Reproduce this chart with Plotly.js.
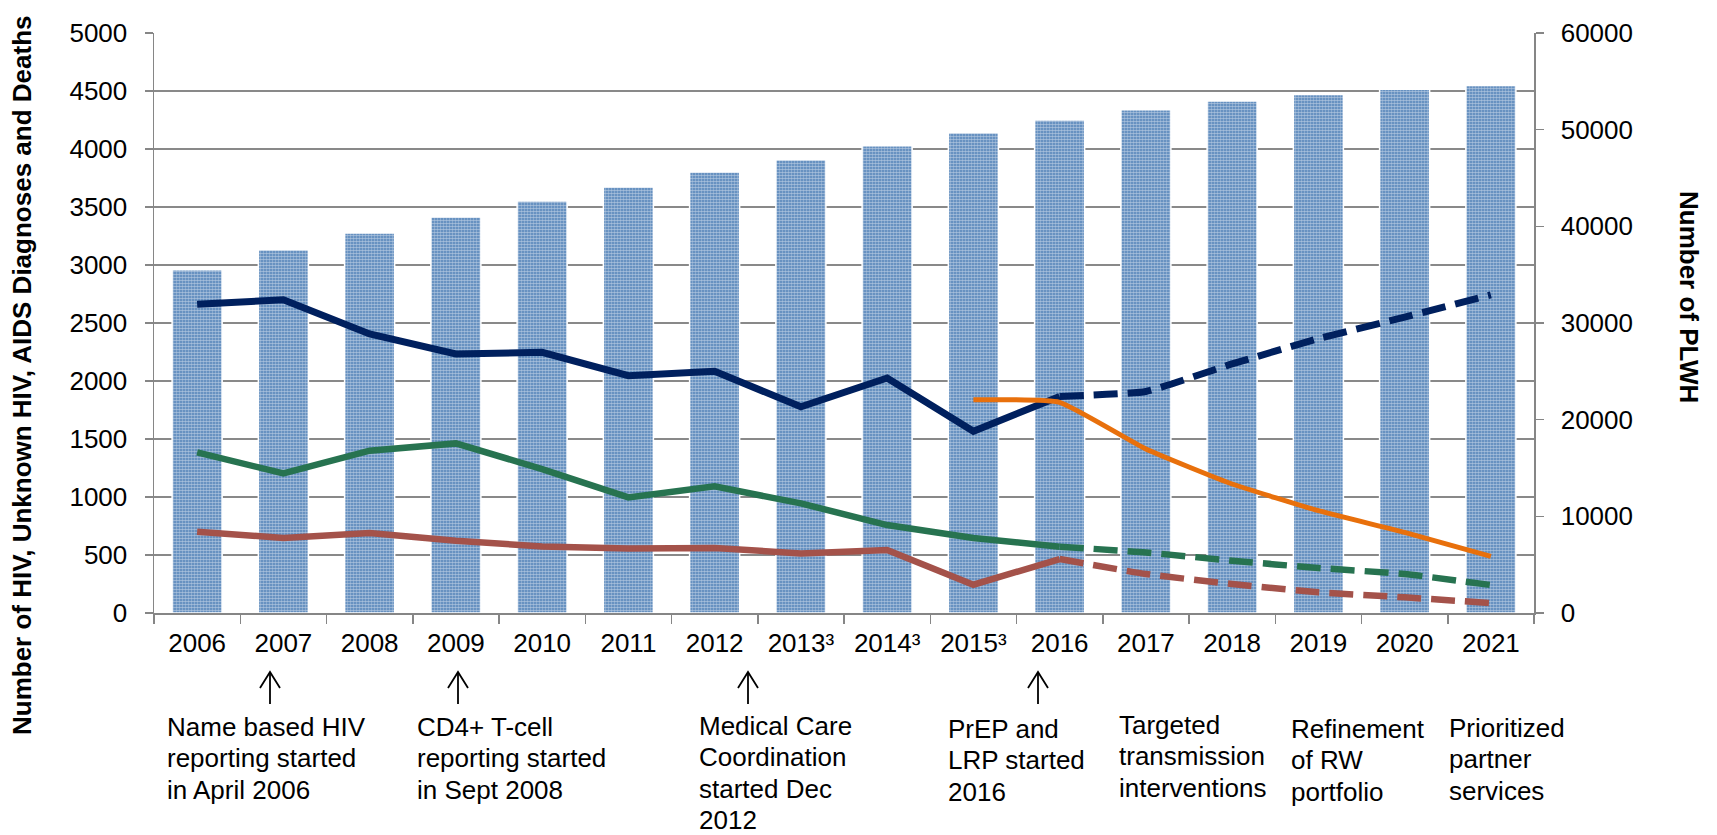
<!DOCTYPE html>
<html><head><meta charset="utf-8">
<script src="https://cdn.plot.ly/plotly-3.0.1.min.js"></script>
<style>html,body{margin:0;padding:0;background:#fff;} #chart{width:1717px;height:835px;}</style>
</head><body><div id="chart"></div>
<script>
// ---- data ----
const years = ['2006','2007','2008','2009','2010','2011','2012','2013\u00b3','2014\u00b3','2015\u00b3','2016','2017','2018','2019','2020','2021'];
const plwh = [35510, 37580, 39310, 40970, 42620, 44060, 45620, 46900, 48340, 49690, 51000, 52070, 52970, 53650, 54170, 54580];
const hivDiagnoses = [2661, 2700, 2405, 2233, 2247, 2046, 2083, 1778, 2026, 1566, 1867, 1910, 2147, 2365, 2550, 2743];
const aidsDiagnoses = [1385, 1203, 1399, 1462, 1241, 997, 1092, 945, 758, 647, 572, 522, 451, 388, 336, 241];
const deaths = [701, 647, 690, 623, 574, 557, 560, 514, 543, 244, 465, 336, 250, 178, 135, 86];
const unknownHiv = [null, null, null, null, null, null, null, null, null, 1839, 1816, 1414, 1112, 882, 695, 488];
const lastActualIdx = 10; // 2016: solid up to here, dashed projection after

const leftTitle = 'Number of HIV, Unknown HIV, AIDS Diagnoses and Deaths';
const rightTitle = 'Number of PLWH';
const notes = [
  {lines: ['Name based HIV', 'reporting started', 'in April 2006'], x: 166, y: 727},
  {lines: ['CD4+ T-cell', 'reporting started', 'in Sept 2008'], x: 416, y: 727},
  {lines: ['Medical Care', 'Coordination', 'started Dec', '2012'], x: 698, y: 726},
  {lines: ['PrEP and', 'LRP started', '2016'], x: 947, y: 729},
  {lines: ['Targeted', 'transmission', 'interventions'], x: 1118, y: 725},
  {lines: ['Refinement', 'of RW', 'portfolio'], x: 1290, y: 729},
  {lines: ['Prioritized', 'partner', 'services'], x: 1448, y: 728}
];
const arrowX = [270, 458, 748, 1038];

// ---- geometry helpers (page pixels -> paper) ----
const L = 154, R = 1534, T = 33, B = 613;
const px = x => (x - L) / (R - L);
const py = y => (B - y) / (B - T);
const part = (arr, from, to) => arr.map((v, i) => (i >= from && i <= to) ? v : null);
const LINE_STEP = 31.3;

const FONT = 'Liberation Sans, Arial, sans-serif';
const n = years.length - 1;

function lineTraces(name, vals, color, width) {
  return [
    {type: 'scatter', mode: 'lines', name: name, x: years, y: part(vals, 0, lastActualIdx), yaxis: 'y2',
     line: {color: color, width: width}, connectgaps: false, hoverinfo: 'y'},
    {type: 'scatter', mode: 'lines', name: name + ' (projected)', x: years, y: part(vals, lastActualIdx, n), yaxis: 'y2',
     line: {color: color, width: width, dash: '24px,10px', shape: 'spline', smoothing: 0.4}, connectgaps: false, hoverinfo: 'y'}
  ];
}

const data = [
  {type: 'bar', name: 'PLWH', x: years, y: plwh, yaxis: 'y',
   marker: {color: '#4a7cb5', line: {color: '#ffffff', width: 1.5},
            pattern: {shape: '.', size: 3, solidity: 0.62, fgcolor: '#ffffff', fillmode: 'overlay'}}},
  ...lineTraces('HIV Diagnoses', hivDiagnoses, '#00205e', 7),
  ...lineTraces('AIDS Diagnoses', aidsDiagnoses, '#277350', 6.5),
  ...lineTraces('Deaths', deaths, '#a4524a', 6.5),
  {type: 'scatter', mode: 'lines', name: 'Unknown HIV', x: years, y: unknownHiv, yaxis: 'y2',
   line: {color: '#e8700c', width: 5, shape: 'spline', smoothing: 0.4}}
];

const annotations = [
  {text: '<b>' + leftTitle + '</b>', xref: 'paper', yref: 'paper', x: px(22), y: py(376), textangle: -90,
   showarrow: false, xanchor: 'center', yanchor: 'middle', font: {family: FONT, size: 26, color: '#000'}},
  {text: '<b>' + rightTitle + '</b>', xref: 'paper', yref: 'paper', x: px(1689), y: py(297), textangle: 90,
   showarrow: false, xanchor: 'center', yanchor: 'middle', font: {family: FONT, size: 26, color: '#000'}}
];
notes.forEach(nt => nt.lines.forEach((ln, i) => annotations.push({
  text: ln, xref: 'paper', yref: 'paper', x: px(nt.x), y: py(nt.y + i * LINE_STEP), xanchor: 'left', yanchor: 'middle',
  align: 'left', showarrow: false, borderpad: 0, font: {family: FONT, size: 26, color: '#000'}
})));

const shapes = [];
arrowX.forEach(ax => {
  shapes.push({type: 'line', xref: 'paper', yref: 'paper', x0: px(ax), x1: px(ax), y0: py(704), y1: py(672),
               line: {color: '#000', width: 1.8}});
  shapes.push({type: 'path', xref: 'paper', yref: 'paper',
               path: `M ${px(ax - 10)} ${py(688)} L ${px(ax)} ${py(672)} L ${px(ax + 10)} ${py(688)}`,
               line: {color: '#000', width: 1.8}});
});

const axisCommon = {showline: true, linecolor: '#868686', linewidth: 1.5, ticks: 'outside', ticklen: 8,
  tickcolor: '#868686', tickwidth: 1.5, tickfont: {family: FONT, size: 26, color: '#000'}, zeroline: false};

const layout = {
  width: 1717, height: 835,
  margin: {l: L, r: 1717 - R, t: T, b: 835 - B, pad: 0},
  paper_bgcolor: '#fff', plot_bgcolor: '#fff',
  showlegend: false,
  bargap: 0.42,
  font: {family: FONT, size: 26, color: '#000'},
  xaxis: Object.assign({}, axisCommon, {type: 'category', tickson: 'boundaries', ticklen: 9, showgrid: false,
          ticklabelstandoff: 6}),
  yaxis: Object.assign({}, axisCommon, {side: 'right', range: [0, 60000], dtick: 10000, tick0: 0, showgrid: false,
          tickformat: 'd', ticklabelstandoff: 12}),
  yaxis2: Object.assign({}, axisCommon, {overlaying: 'y', side: 'left', range: [0, 5000], dtick: 500, tick0: 0,
          showgrid: true, gridcolor: '#898989', gridwidth: 1.5, tickformat: 'd', ticklabelstandoff: 12}),
  annotations: annotations,
  shapes: shapes
};

Plotly.newPlot('chart', data, layout, {staticPlot: true, displayModeBar: false});
</script>
</body></html>
